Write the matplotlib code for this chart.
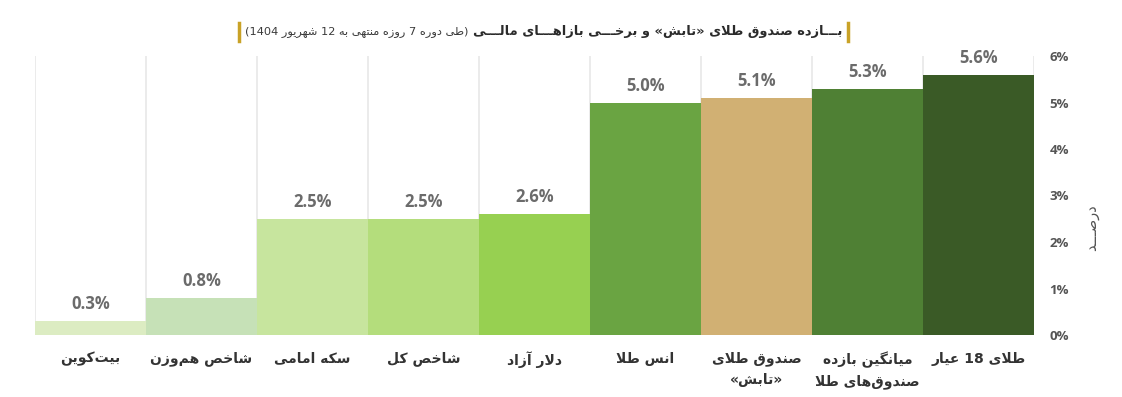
import re
import matplotlib
matplotlib.use('Agg')
import matplotlib.pyplot as plt
from matplotlib.lines import Line2D

# داده‌ها
categories = ['بیت‌کوین', 'شاخص هم‌وزن', 'سکه امامی', 'شاخص کل', 'دلار آزاد',
              'انس طلا', 'صندوق طلای\n«تابش»', 'میانگین بازده\nصندوق‌های طلا', 'طلای 18 عیار']
values = [0.3, 0.8, 2.5, 2.5, 2.6, 5.0, 5.1, 5.3, 5.6]
colors = ['#dcecc2', '#c6e1b7', '#c7e59e', '#b4dd7c', '#97d051',
          '#6aa442', '#d1b073', '#4f8034', '#3a5a26']
yticks = [0, 1, 2, 3, 4, 5, 6]

title_main = 'بـــازده صندوق طلای «تابش» و برخـــی بازاهـــای مالـــی'
title_sub = '(طی دوره 7 روزه منتهی به 12 شهریور 1404)'
ylabel = 'درصـــد'

# شکل‌دهی ساده حروف فارسی (بدون کتابخانه بیرونی)
FORMS = {
    'ا': ('\uFE8D', '\uFE8E', None, None),
    'آ': ('\uFE81', '\uFE82', None, None),
    'ب': ('\uFE8F', '\uFE90', '\uFE91', '\uFE92'),
    'پ': ('\uFB56', '\uFB57', '\uFB58', '\uFB59'),
    'ت': ('\uFE95', '\uFE96', '\uFE97', '\uFE98'),
    'ج': ('\uFE9D', '\uFE9E', '\uFE9F', '\uFEA0'),
    'ح': ('\uFEA1', '\uFEA2', '\uFEA3', '\uFEA4'),
    'خ': ('\uFEA5', '\uFEA6', '\uFEA7', '\uFEA8'),
    'د': ('\uFEA9', '\uFEAA', None, None),
    'ر': ('\uFEAD', '\uFEAE', None, None),
    'ز': ('\uFEAF', '\uFEB0', None, None),
    'س': ('\uFEB1', '\uFEB2', '\uFEB3', '\uFEB4'),
    'ش': ('\uFEB5', '\uFEB6', '\uFEB7', '\uFEB8'),
    'ص': ('\uFEB9', '\uFEBA', '\uFEBB', '\uFEBC'),
    'ط': ('\uFEC1', '\uFEC2', '\uFEC3', '\uFEC4'),
    'ع': ('\uFEC9', '\uFECA', '\uFECB', '\uFECC'),
    'ق': ('\uFED5', '\uFED6', '\uFED7', '\uFED8'),
    'ک': ('\uFB8E', '\uFB8F', '\uFB90', '\uFB91'),
    'گ': ('\uFB92', '\uFB93', '\uFB94', '\uFB95'),
    'ل': ('\uFEDD', '\uFEDE', '\uFEDF', '\uFEE0'),
    'م': ('\uFEE1', '\uFEE2', '\uFEE3', '\uFEE4'),
    'ن': ('\uFEE5', '\uFEE6', '\uFEE7', '\uFEE8'),
    'ه': ('\uFEE9', '\uFEEA', '\uFEEB', '\uFEEC'),
    'و': ('\uFEED', '\uFEEE', None, None),
    'ی': ('\uFBFC', '\uFBFD', '\uFBFE', '\uFBFF'),
    'ـ': ('ـ', 'ـ', 'ـ', 'ـ'),
}
LAM_ALEF = {'ا': ('\uFEFB', '\uFEFC'), 'آ': ('\uFEF5', '\uFEF6')}
MIRROR = {'(': ')', ')': '(', '«': '»', '»': '«'}


def joins_next(c):
    return c in FORMS and FORMS[c][2] is not None


def shape_line(s):
    out = []
    i = 0
    n = len(s)
    while i < n:
        c = s[i]
        if c not in FORMS:
            if c != '\u200c':
                out.append(c)
            i += 1
            continue
        prev = s[i - 1] if i > 0 else ''
        p = joins_next(prev)
        if c == 'ل' and i + 1 < n and s[i + 1] in LAM_ALEF:
            out.append(LAM_ALEF[s[i + 1]][1 if p else 0])
            i += 2
            continue
        nxt = s[i + 1] if i + 1 < n else ''
        q = joins_next(c) and nxt in FORMS
        f = FORMS[c]
        if p and q:
            out.append(f[3])
        elif p:
            out.append(f[1])
        elif q:
            out.append(f[2])
        else:
            out.append(f[0])
        i += 1
    shaped = ''.join(out)
    # ترتیب نمایشی: وارونه کردن، با حفظ ترتیب اعداد
    tokens = re.findall(r'[0-9.%]+|.', shaped)
    tokens.reverse()
    return ''.join(MIRROR.get(t, t) for t in tokens)


def fa(s):
    return '\n'.join(shape_line(line) for line in s.split('\n'))


def graficar():
    fig = plt.figure(figsize=(11.22, 3.97), dpi=100)
    W, H = 1122, 397
    ax = fig.add_axes([35 / W, 1 - 335 / H, (1034 - 35) / W, (335 - 56) / H])

    x = list(range(len(values)))
    for b in range(len(values) + 1):
        ax.plot([b - 0.5, b - 0.5], [0, 6], color='#e8e8e8', lw=1.2, zorder=0)
    ax.bar(x, values, width=1.0, color=colors, zorder=2)

    for xi, v in zip(x, values):
        ax.annotate(f'{v:.1f}%', (xi, v), xytext=(0, 12), textcoords='offset points',
                    ha='center', va='center', fontsize=12, fontweight='bold',
                    color='#6b6b6b', family='Open Sans')

    ax.set_xlim(-0.5, len(values) - 0.5)
    ax.set_ylim(0, 6)
    ax.set_xticks(x)
    ax.set_xticklabels([fa(c) for c in categories], fontsize=10, color='#333333',
                       family='DejaVu Sans', fontweight='bold', linespacing=1.6)
    ax.tick_params(axis='x', length=0, pad=12)
    ax.yaxis.tick_right()
    ax.set_yticks(yticks)
    ax.set_yticklabels([f'{t}%' for t in yticks], fontsize=9.5, color='#555555',
                       family='Open Sans', fontweight='bold')
    ax.tick_params(axis='y', length=0, pad=11)
    for s in ax.spines.values():
        s.set_visible(False)

    fig.text(1092 / W, 1 - 228 / H, fa(ylabel), rotation=90, ha='center', va='center',
             fontsize=10.5, color='#555555', family='DejaVu Sans')

    # عنوان
    gold = '#c9a227'
    ty = 1 - 32 / H
    t1 = fig.text(842 / W, ty, fa(title_main), ha='right', va='center', fontsize=9.4,
                  fontweight='bold', color='#2b2b2b', family='DejaVu Sans')
    fig.canvas.draw()
    r = fig.canvas.get_renderer()
    left1 = t1.get_window_extent(r).x0
    t2 = fig.text((left1 - 4) / W, ty, fa(title_sub), ha='right', va='center', fontsize=8.2,
                  color='#3a3a3a', family='DejaVu Sans')
    fig.canvas.draw()
    left2 = t2.get_window_extent(r).x0
    for px in (848, left2 - 6):
        fig.add_artist(Line2D([px / W, px / W], [1 - 23 / H, 1 - 41 / H],
                              color=gold, lw=2.5, transform=fig.transFigure))

    fig.savefig('out.png', dpi=100, facecolor='white')


if __name__ == '__main__':
    graficar()
